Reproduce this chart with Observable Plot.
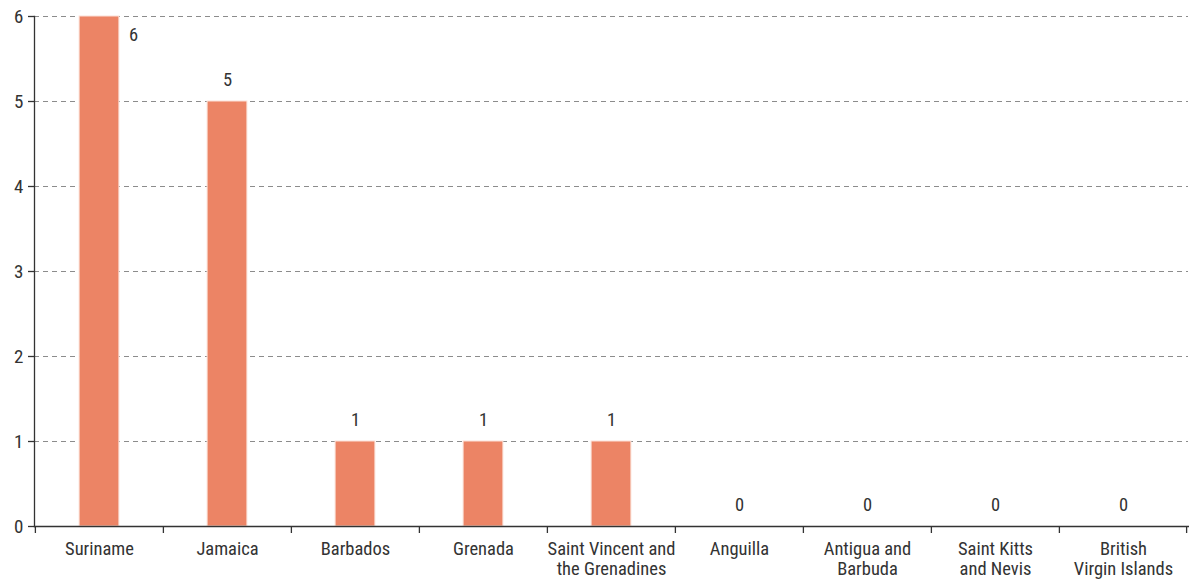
<!DOCTYPE html>
<html><head><meta charset="utf-8">
<script src="https://cdn.jsdelivr.net/npm/d3@7"></script>
<script src="https://cdn.jsdelivr.net/npm/@observablehq/plot@0.6"></script>
<style>
body{margin:0;background:#fff;}
svg{font-family:"Roboto Condensed","Liberation Sans Narrow","DejaVu Sans Condensed",Roboto,sans-serif;}
</style>
</head><body><div id="chart"></div>
<script>
const countries = ["Suriname","Jamaica","Barbados","Grenada","Saint Vincent and\nthe Grenadines","Anguilla","Antigua and\nBarbuda","Saint Kitts\nand Nevis","British\nVirgin Islands"];
const values = [6,5,1,1,1,0,0,0,0];
const yTicks = [0,1,2,3,4,5,6];

const data = countries.map((c,i)=>({country:c, value:values[i]}));
const maxV = d3.max(values);
const W = 1189, H = 581, mL = 34, mR = 1;
const step = (W - mL - mR) / countries.length;
const barW = 40;
const ink = "#333";

const chart = Plot.plot({
  width: W, height: H,
  marginLeft: mL, marginRight: mR, marginTop: 16, marginBottom: 55,
  style: {fontSize: "18.5px", color: ink, background: "#fff"},
  x: {type: "band", domain: countries, padding: 0, label: null},
  y: {domain: [0, 6], label: null},
  marks: [
    Plot.gridY(yTicks, {stroke: "#8c8c8c", strokeOpacity: 1, strokeDasharray: "5,4"}),
    Plot.barY(data, {x: "country", y: "value", fill: "#EC8465", stroke: "#fbe0d7", strokeWidth: 1, insetLeft: (step-barW)/2, insetRight: (step-barW)/2}),
    Plot.text(data.filter(d => d.value !== maxV), {x: "country", y: "value", text: d => String(d.value), dy: -21, fill: ink, fontSize: 18.5}),
    Plot.text(data.filter(d => d.value === maxV), {x: "country", y: "value", text: d => String(d.value), dx: 34, dy: 19, fill: ink, fontSize: 18.5}),
    Plot.axisY(yTicks, {tickSize: 6, tickPadding: 5, tickFormat: d3.format("d"), stroke: ink, strokeWidth: 1.3, fill: ink, fontSize: 19}),
    Plot.axisX({tickSize: 0, tickPadding: 14, fill: ink, fontSize: 18.5, lineHeight: 1.1}),
    Plot.axisX({tickSize: 7, tickFormat: () => "", dx: -step/2, stroke: ink, strokeWidth: 1.3}),
    Plot.axisX([countries[countries.length-1]], {tickSize: 7, tickFormat: () => "", dx: step/2 - 1, stroke: ink, strokeWidth: 1.3}),
    Plot.frame({anchor: "left", stroke: ink, strokeWidth: 1.3}),
    Plot.frame({anchor: "bottom", stroke: ink, strokeWidth: 1.3})
  ]
});
document.getElementById("chart").appendChild(chart);
</script>
</body></html>
